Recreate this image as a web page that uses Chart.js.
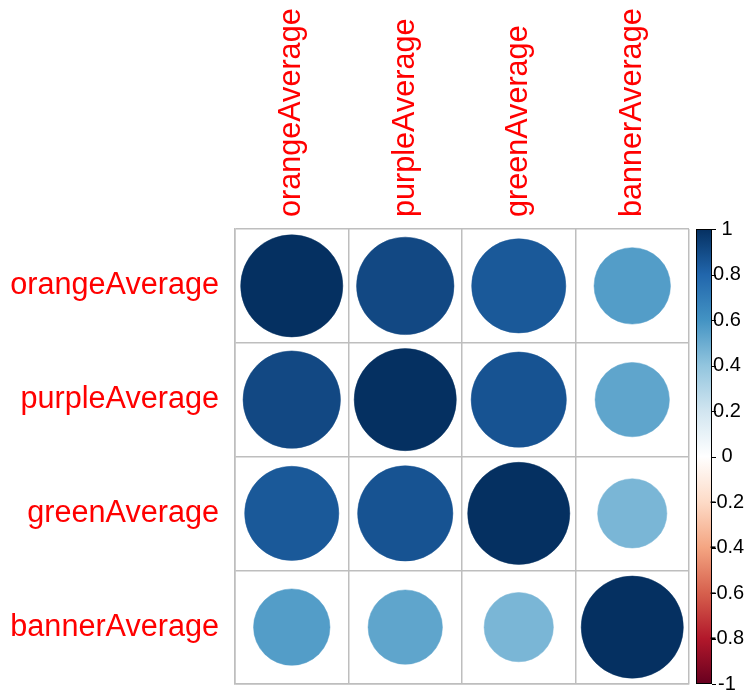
<!DOCTYPE html>
<html>
<head>
<meta charset="utf-8">
<script src="https://cdn.jsdelivr.net/npm/chart.js@4"></script>
<style>
  html, body { margin: 0; padding: 0; background: #fff; }
  #wrap { width: 750px; height: 693px; }
</style>
</head>
<body>
<div id="wrap"><canvas id="corrChart"></canvas></div>
<script>
// variable names (rows top to bottom, columns left to right)
var varNames = ['orangeAverage', 'purpleAverage', 'greenAverage', 'bannerAverage'];

// correlation matrix rows
var orangeRow = [1.00, 0.91, 0.85, 0.56];
var purpleRow = [0.91, 1.00, 0.87, 0.53];
var greenRow  = [0.85, 0.87, 1.00, 0.46];
var bannerRow = [0.56, 0.53, 0.46, 1.00];
var corrRows = [orangeRow, purpleRow, greenRow, bannerRow];

// colour legend ticks
var legendTicks = [1, 0.8, 0.6, 0.4, 0.2, 0, -0.2, -0.4, -0.6, -0.8, -1];

// RdBu palette, -1 .. 1
var rdbu = ['#67001F', '#B2182B', '#D6604D', '#F4A582', '#FDDBC7', '#FFFFFF',
            '#D1E5F0', '#92C5DE', '#4393C3', '#2166AC', '#053061'];

function hexToRgb(h) {
    return [parseInt(h.substr(1, 2), 16), parseInt(h.substr(3, 2), 16), parseInt(h.substr(5, 2), 16)];
}
function corrColor(v) {
    var t = (v + 1) / 2 * (rdbu.length - 1);
    var i = Math.min(Math.floor(t), rdbu.length - 2);
    var f = t - i;
    var a = hexToRgb(rdbu[i]), b = hexToRgb(rdbu[i + 1]);
    var c = a.map(function (x, k) { return Math.round(x + (b[k] - x) * f); });
    return 'rgb(' + c.join(',') + ')';
}

var points = [];
corrRows.forEach(function (row, i) {
    row.forEach(function (v, j) {
        points.push({ x: j, y: i, v: v });
    });
});

var fontFam = '"Liberation Sans", Arial, Helvetica, sans-serif';

function cellSize(chart) {
    var sx = chart.scales.x;
    return sx.getPixelForValue(1) - sx.getPixelForValue(0);
}

// grid lines sit between cells
function cellEdges(scale) {
    scale.ticks = [-0.5, 0.5, 1.5, 2.5, 3.5].map(function (v) { return { value: v }; });
}

var labelsPlugin = {
    id: 'corrLabels',
    afterDraw: function (chart) {
        var ctx = chart.ctx, sx = chart.scales.x, sy = chart.scales.y, area = chart.chartArea;
        ctx.save();
        ctx.fillStyle = '#FF0000';
        ctx.font = '30.6px ' + fontFam;
        // row labels
        ctx.textAlign = 'right';
        ctx.textBaseline = 'middle';
        varNames.forEach(function (n, i) {
            ctx.fillText(n, area.left - 16, sy.getPixelForValue(i));
        });
        // column labels, rotated
        varNames.forEach(function (n, j) {
            ctx.save();
            ctx.translate(sx.getPixelForValue(j), area.top - 12);
            ctx.rotate(-Math.PI / 2);
            ctx.textAlign = 'left';
            ctx.textBaseline = 'middle';
            ctx.fillText(n, 0, 0);
            ctx.restore();
        });

        // colour legend
        var x0 = area.right + 7, w = 16;
        var top = area.top, bot = area.bottom;
        var grad = ctx.createLinearGradient(0, bot, 0, top);
        rdbu.forEach(function (c, k) { grad.addColorStop(k / (rdbu.length - 1), c); });
        ctx.fillStyle = grad;
        ctx.fillRect(x0, top, w, bot - top);
        ctx.strokeStyle = '#000';
        ctx.lineWidth = 1;
        ctx.strokeRect(x0 + 0.5, top + 0.5, w - 1, bot - top - 1);
        ctx.fillStyle = '#000';
        ctx.font = '20px ' + fontFam;
        ctx.textAlign = 'center';
        ctx.textBaseline = 'middle';
        legendTicks.forEach(function (t) {
            var y = top + (1 - t) / 2 * (bot - top);
            ctx.beginPath();
            ctx.moveTo(x0 + w, Math.round(y) + 0.5);
            ctx.lineTo(x0 + w + 4, Math.round(y) + 0.5);
            ctx.stroke();
            ctx.fillText(String(t), x0 + w + 15, y);
        });
        ctx.restore();
    }
};

new Chart(document.getElementById('corrChart').getContext('2d'), {
    type: 'scatter',
    data: {
        datasets: [{
            data: points,
            pointStyle: 'circle',
            pointRadius: function (c) {
                var p = c.raw;
                if (!p) return 0;
                return 0.45 * Math.sqrt(Math.abs(p.v)) * cellSize(c.chart);
            },
            pointBackgroundColor: function (c) { return c.raw ? corrColor(c.raw.v) : '#fff'; },
            pointBorderColor: function (c) { return c.raw ? corrColor(c.raw.v) : '#fff'; },
            pointBorderWidth: 0.5
        }]
    },
    options: {
        responsive: true,
        maintainAspectRatio: false,
        animation: false,
        events: [],
        layout: { padding: { left: 235, right: 61, top: 229, bottom: 9 } },
        plugins: { legend: { display: false }, tooltip: { enabled: false } },
        scales: {
            x: {
                type: 'linear', min: -0.5, max: 3.5,
                afterBuildTicks: cellEdges,
                ticks: { display: false },
                grid: { color: '#BEBEBE', lineWidth: 1.5, drawTicks: false },
                border: { color: '#BEBEBE', width: 1.5 }
            },
            y: {
                type: 'linear', min: -0.5, max: 3.5, reverse: true,
                afterBuildTicks: cellEdges,
                ticks: { display: false },
                grid: { color: '#BEBEBE', lineWidth: 1.5, drawTicks: false },
                border: { color: '#BEBEBE', width: 1.5 }
            }
        }
    },
    plugins: [labelsPlugin]
});
</script>
</body>
</html>
